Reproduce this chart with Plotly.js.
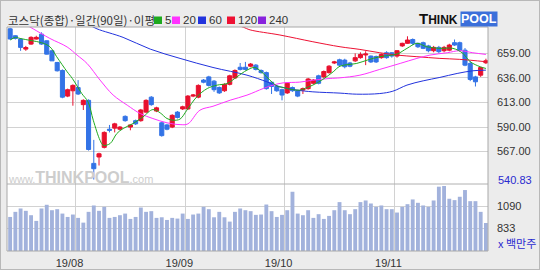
<!DOCTYPE html>
<html><head><meta charset="utf-8">
<script src="https://cdn.plot.ly/plotly-3.0.1.min.js"></script>
<style>
html,body{margin:0;padding:0;background:#ececec;}
#wrap{position:relative;width:540px;height:270px;}
#chart{width:540px;height:270px;}
#frame{position:absolute;left:0;top:0;width:538px;height:268px;border:1px solid #b8b8b8;pointer-events:none;}
</style>
</head><body><div id="wrap"><div id="chart"></div><div id="frame"></div></div>
<script>
// ---------- data ----------
const dates = [
'2019-07-15','2019-07-16','2019-07-17','2019-07-18','2019-07-19','2019-07-22','2019-07-23','2019-07-24','2019-07-25','2019-07-26','2019-07-29','2019-07-30','2019-07-31',
'2019-08-01','2019-08-02','2019-08-05','2019-08-06','2019-08-07','2019-08-08','2019-08-09','2019-08-12','2019-08-13','2019-08-14','2019-08-16','2019-08-19','2019-08-20','2019-08-21','2019-08-22','2019-08-23','2019-08-26','2019-08-27','2019-08-28','2019-08-29','2019-08-30',
'2019-09-02','2019-09-03','2019-09-04','2019-09-05','2019-09-06','2019-09-09','2019-09-10','2019-09-11','2019-09-16','2019-09-17','2019-09-18','2019-09-19','2019-09-20','2019-09-23','2019-09-24','2019-09-25','2019-09-26','2019-09-27','2019-09-30',
'2019-10-01','2019-10-02','2019-10-04','2019-10-07','2019-10-08','2019-10-10','2019-10-11','2019-10-14','2019-10-15','2019-10-16','2019-10-17','2019-10-18','2019-10-21','2019-10-22','2019-10-23','2019-10-24','2019-10-25','2019-10-28','2019-10-29','2019-10-30','2019-10-31',
'2019-11-01','2019-11-04','2019-11-05','2019-11-06','2019-11-07','2019-11-08','2019-11-11','2019-11-12','2019-11-13','2019-11-14','2019-11-15','2019-11-18','2019-11-19','2019-11-20','2019-11-21','2019-11-22','2019-11-25','2019-11-26'];

const openP  = [682,675.5,672.4,663,667.7,672.4,677,670.8,661.4,650.5,643,619,624,627,611,615,556,562,571,588,589,588,600,590,596,596,604,618,605,594,592,590,604,
607,607,619,618,634,637,633,627,624,630,636,646,646,647,648,643,641,632,628,625,
622,627,624,624.6,626,631,638,637,641,650,653,652.7,650,652,655,657.5,656.5,656,655,659.6,659.6,
656.5,666,668.4,672,668.4,669,666,661.5,664.6,661.5,662,669,669,662,649.6,637,638.6,650.2];
const highP  = [683,676,673,666,675,675.5,678.7,671,662,651,644,626,630,634,616,616,578,566,586,592,594,591,601,592,597,607,616,619,609,595,593,602,605,
610,620,621,630,635,638,634,628,631,639,644,650,651,650,649,644,642,633,629,626,
632,628,625,627,636,635,639,643,648,652,654,654,651,659,660,661,657,657,659,661,660,
662,669,675,673,669,670,667,666,666,666,668,672,670,664,652,638,646,654];
const lowP   = [672,672,661.4,661.4,667,672,667,658,652,642,617,618,610,620,606,568,540.83,554,570,585,585,587,595,587,592,595,603,610,604,581,587,589,598,
606,606,618,617,631,628,623,621,623,629,635,643,643,646,643,640,625,621,623,615,
621,623,618,621,625,630,630,636,640,649,647,645,646,651,654,648,650,650,654,654,655,
655,665,668,667,664,663,660,660,659,660,661,666,661,647,633,628,637,649];
const closeP = [672.5,673,664.6,664.5,674,674,667.7,658.3,652,642.7,618,625,629,621,615,569,551,565,585,587,593,590,596,592,593,606,615,611,608,582,588,601,599,
609,619,620,629,632,629,625,622,630,638,643,644,644,649,644,641,626,628,624,620,
631,624,619,626,635,634,631,642,647,651,648,646.5,647,655,658,658.4,651,651,658,655,656.5,
661.5,668.4,671.5,668.4,665.2,663.7,661.5,664.6,660.6,664.6,666.8,666.8,662,648,634.6,632.4,645.8,652.1];

const volume = [965,1024,1063,1036,985,919,1063,1106,1043,1055,1004,965,993,954,899,1024,1098,1036,1082,954,965,985,1004,942,965,1074,1024,1032,954,961,930,954,946,1004,942,993,1004,1082,1055,961,1024,961,911,1024,1063,1043,1032,989,993,1109,
1032,965,989,1043,1257,1004,985,1043,954,997,942,977,1043,1137,1043,997,1055,1137,1156,1121,1082,1098,1055,1055,1016,1082,1113,1168,1129,1098,1082,1156,1316,1324,1176,1160,1199,1277,1148,1148,1024,895];

// moving averages (candle index, value)
const ma5X  = [0,1,1.9,4,6,7.6,8.9,10.9,11.9,13.7,14.9,15.9,17.2,17.8,19.1,20.4,21.6,23.5,25.4,27.3,28.7,30,31.2,32.5,33.8,35.7,37.7,39.6,41.5,43.4,45.3,46.8,48.4,49.7,51.1,52.2,53.5,55.4,56.8,57.9,59.8,61.8,63.1,66.3,68.3,70.7,74,75.9,77.8,79.7,82.2,84.7,86.6,88,89.9,91];
const ma5Y  = [671.5,674,673,671,669,665.2,655.9,641.8,635.5,621.4,613.6,596.4,577.6,573,574.5,583.9,588.6,593.3,599.5,606.4,603.3,598,596.4,597.5,605.8,618.3,626.1,629.3,630.8,637.1,643.3,645.8,640.2,633.9,628.3,627.1,625.5,624.6,627.1,629.3,634.6,641.8,647,649.6,652.7,655.9,658.4,663.7,668.4,665.2,663.7,663.7,659,651.2,646.5,644.9];
const ma20X = [3,4.4,7.6,10.9,12.8,14.7,17.2,19.7,22.4,24.9,27.3,30,32.5,34,36.3,38.8,42.1,45.3,48.4,50.3,52.2,55.4,57.9,61.2,63.1,66.9,70.7,74.6,77.8,80.3,83.6,86,88.5,91];
const ma20Y = [686,682,673,665,657.4,649.6,634,620,610.5,602.6,598,594,592.3,593,605.8,609.5,615.2,619.9,626.1,629.3,631.4,632.1,633.9,635.5,636.1,638.6,644,649.6,654.3,657.4,659.6,661.5,659.6,658];
const ma60X = [15,16.6,21.6,26.8,32.5,38.8,45.3,49.1,51.6,54.9,57.9,63.1,66.3,70.7,73.2,75.9,79,82.2,85.5,88.5,91];
const ma60Y = [686,682,674,663,654.3,645.8,638.6,632.4,627.7,624.6,623,621.8,620.8,621.4,623.6,629.3,633.3,636.5,640.2,642.7,643.3];
const ma120X = [43,44.6,45.9,51.6,57.9,63.1,66.9,70.7,74,77.8,82.2,86,91];
const ma120Y = [686,683.5,681,676.2,669.9,665.2,662.7,659.6,657.4,655.9,654.3,653.4,651.2];

const priceTicks = [659,636,613,590,567];
const volTicks = [1090,833];
const maLabels = ['5','20','60','120','240'];
const maColors = ['#1faa1f','#ff33ff','#2233dd','#ee1133','#8822dd'];
const titleText = '코스닥(종합)·일간(90일)·이평';

// ---------- build ----------
const idx = dates.map((d,i)=>i);
const monthTicks=[], monthText=[];
for (let i=1;i<dates.length;i++){
  if (dates[i].slice(5,7)!==dates[i-1].slice(5,7)){
    monthTicks.push(i-0.5);
    monthText.push(dates[i].slice(2,4)+'/'+dates[i].slice(5,7));
  }
}
const minLow = Math.min(...lowP);

const L=7,R=488,T=27,B=251;
const px = v => (v-L)/(R-L);
const py = v => (B-v)/(B-T);
const volTop = py(184);

const UP='#e8102e', DOWN='#3373e6';
const traces = [
  {type:'bar', x:idx, y:volume, xaxis:'x', yaxis:'y2', width:0.74,
   marker:{color:'#a2b2dc', line:{width:0}}, hoverinfo:'skip'},
  {type:'scatter', mode:'lines', x:ma120X, y:ma120Y, line:{color:maColors[3], width:1, shape:'spline'}, hoverinfo:'skip'},
  {type:'scatter', mode:'lines', x:ma60X, y:ma60Y, line:{color:maColors[2], width:1, shape:'spline'}, hoverinfo:'skip'},
  {type:'scatter', mode:'lines', x:ma20X, y:ma20Y, line:{color:maColors[1], width:1, shape:'spline'}, hoverinfo:'skip'},
  {type:'candlestick', x:idx, open:openP, high:highP, low:lowP, close:closeP, xaxis:'x', yaxis:'y',
   increasing:{line:{color:UP,width:1}, fillcolor:UP},
   decreasing:{line:{color:DOWN,width:1}, fillcolor:DOWN},
   whiskerwidth:0, hoverinfo:'skip'},
  {type:'scatter', mode:'lines', x:ma5X, y:ma5Y, line:{color:maColors[0], width:1, shape:'spline'}, hoverinfo:'skip'}
];

const tickFont = {family:'Liberation Sans, Arial, sans-serif', size:11, color:'#333'};
const shapes = [
  {type:'line', xref:'paper', yref:'paper', x0:0, x1:1, y0:volTop, y1:volTop, line:{color:'#b0b0b0', width:1}},
  {type:'rect', xref:'paper', yref:'paper', x0:0, x1:1, y0:0, y1:1, line:{color:'#a8a8a8', width:1}}
];
const annotations = [
  {xref:'paper', yref:'paper', x:px(6), y:py(19.5), xanchor:'left', yanchor:'middle', showarrow:false,
   text:titleText, font:{family:'Noto Sans CJK KR, sans-serif', size:11.5, color:'#333'}},
  {xref:'paper', yref:'y', x:px(496), y:minLow, xanchor:'left', yanchor:'middle', showarrow:false,
   text:minLow.toFixed(2), font:{...tickFont, color:'#2a2ad0'}},
  {xref:'paper', yref:'paper', x:px(496), y:py(243), xanchor:'left', yanchor:'middle', showarrow:false,
   text:'x 백만주', font:{family:'Noto Sans CJK KR, sans-serif', size:11, color:'#2a2ad0'}},
  {xref:'paper', yref:'paper', x:px(460), y:py(19), xanchor:'right', yanchor:'middle', showarrow:false,
   text:'<b><span style="font-size:15px">T</span>HINK</b>', font:{family:'Liberation Sans, Arial, sans-serif', size:12, color:'#111'}},
  {xref:'paper', yref:'paper', x:px(460), y:py(19), xanchor:'left', yanchor:'middle', showarrow:false,
   text:'<b>POOL</b>', bgcolor:'#3b6fda', borderpad:0, font:{family:'Liberation Sans, Arial, sans-serif', size:12.5, color:'#fff'}},
  {xref:'paper', yref:'paper', x:px(80), y:py(177), xanchor:'center', yanchor:'middle', showarrow:false,
   text:'www.<b><span style="font-size:16px">THINKPOOL</span></b>.com', font:{family:'Liberation Sans, Arial, sans-serif', size:11, color:'#cdcdcd'}}
];
// legend squares + numbers
const legX = [154,172,198,227,258];
maLabels.forEach((lab,i)=>{
  shapes.push({type:'rect', xref:'paper', yref:'paper', x0:px(legX[i]), x1:px(legX[i]+8), y0:py(24), y1:py(16.5),
    fillcolor:maColors[i], line:{width:0}});
  annotations.push({xref:'paper', yref:'paper', x:px(legX[i]+9), y:py(19.5), xanchor:'left', yanchor:'middle', showarrow:false,
    text:lab, font:{family:'Liberation Sans, Arial, sans-serif', size:11.5, color:'#333'}});
});

const layout = {
  width:540, height:270,
  margin:{l:L, r:540-R, t:T, b:270-B, pad:0},
  paper_bgcolor:'#ececec', plot_bgcolor:'#ffffff',
  showlegend:false, boxgap:0.22, boxgroupgap:0,
  xaxis:{type:'linear', range:[-0.6,91.4], anchor:'y2', tickvals:monthTicks, ticktext:monthText,
    showgrid:true, gridcolor:'#d2d2d2', gridwidth:1, zeroline:false, showline:false, ticks:'',
    tickfont:tickFont, ticklabelshift:-6, ticklabelstandoff:4, rangeslider:{visible:false}, fixedrange:true},
  yaxis:{domain:[volTop,1], range:[536.7,683.7], side:'right', anchor:'x', tickvals:priceTicks,
    ticktext:priceTicks.map(v=>v.toFixed(2)), showgrid:true, gridcolor:'#d2d2d2', zeroline:false, ticks:'',
    tickfont:tickFont, ticklabelstandoff:8, fixedrange:true},
  yaxis2:{domain:[0,volTop], range:[570,1347], side:'right', anchor:'x', tickvals:volTicks,
    ticktext:volTicks.map(String), showgrid:true, gridcolor:'#d2d2d2', zeroline:false, ticks:'',
    tickfont:tickFont, ticklabelstandoff:8, fixedrange:true},
  shapes, annotations
};
Plotly.newPlot('chart', traces, layout, {displayModeBar:false, staticPlot:true});
</script>
</body></html>
